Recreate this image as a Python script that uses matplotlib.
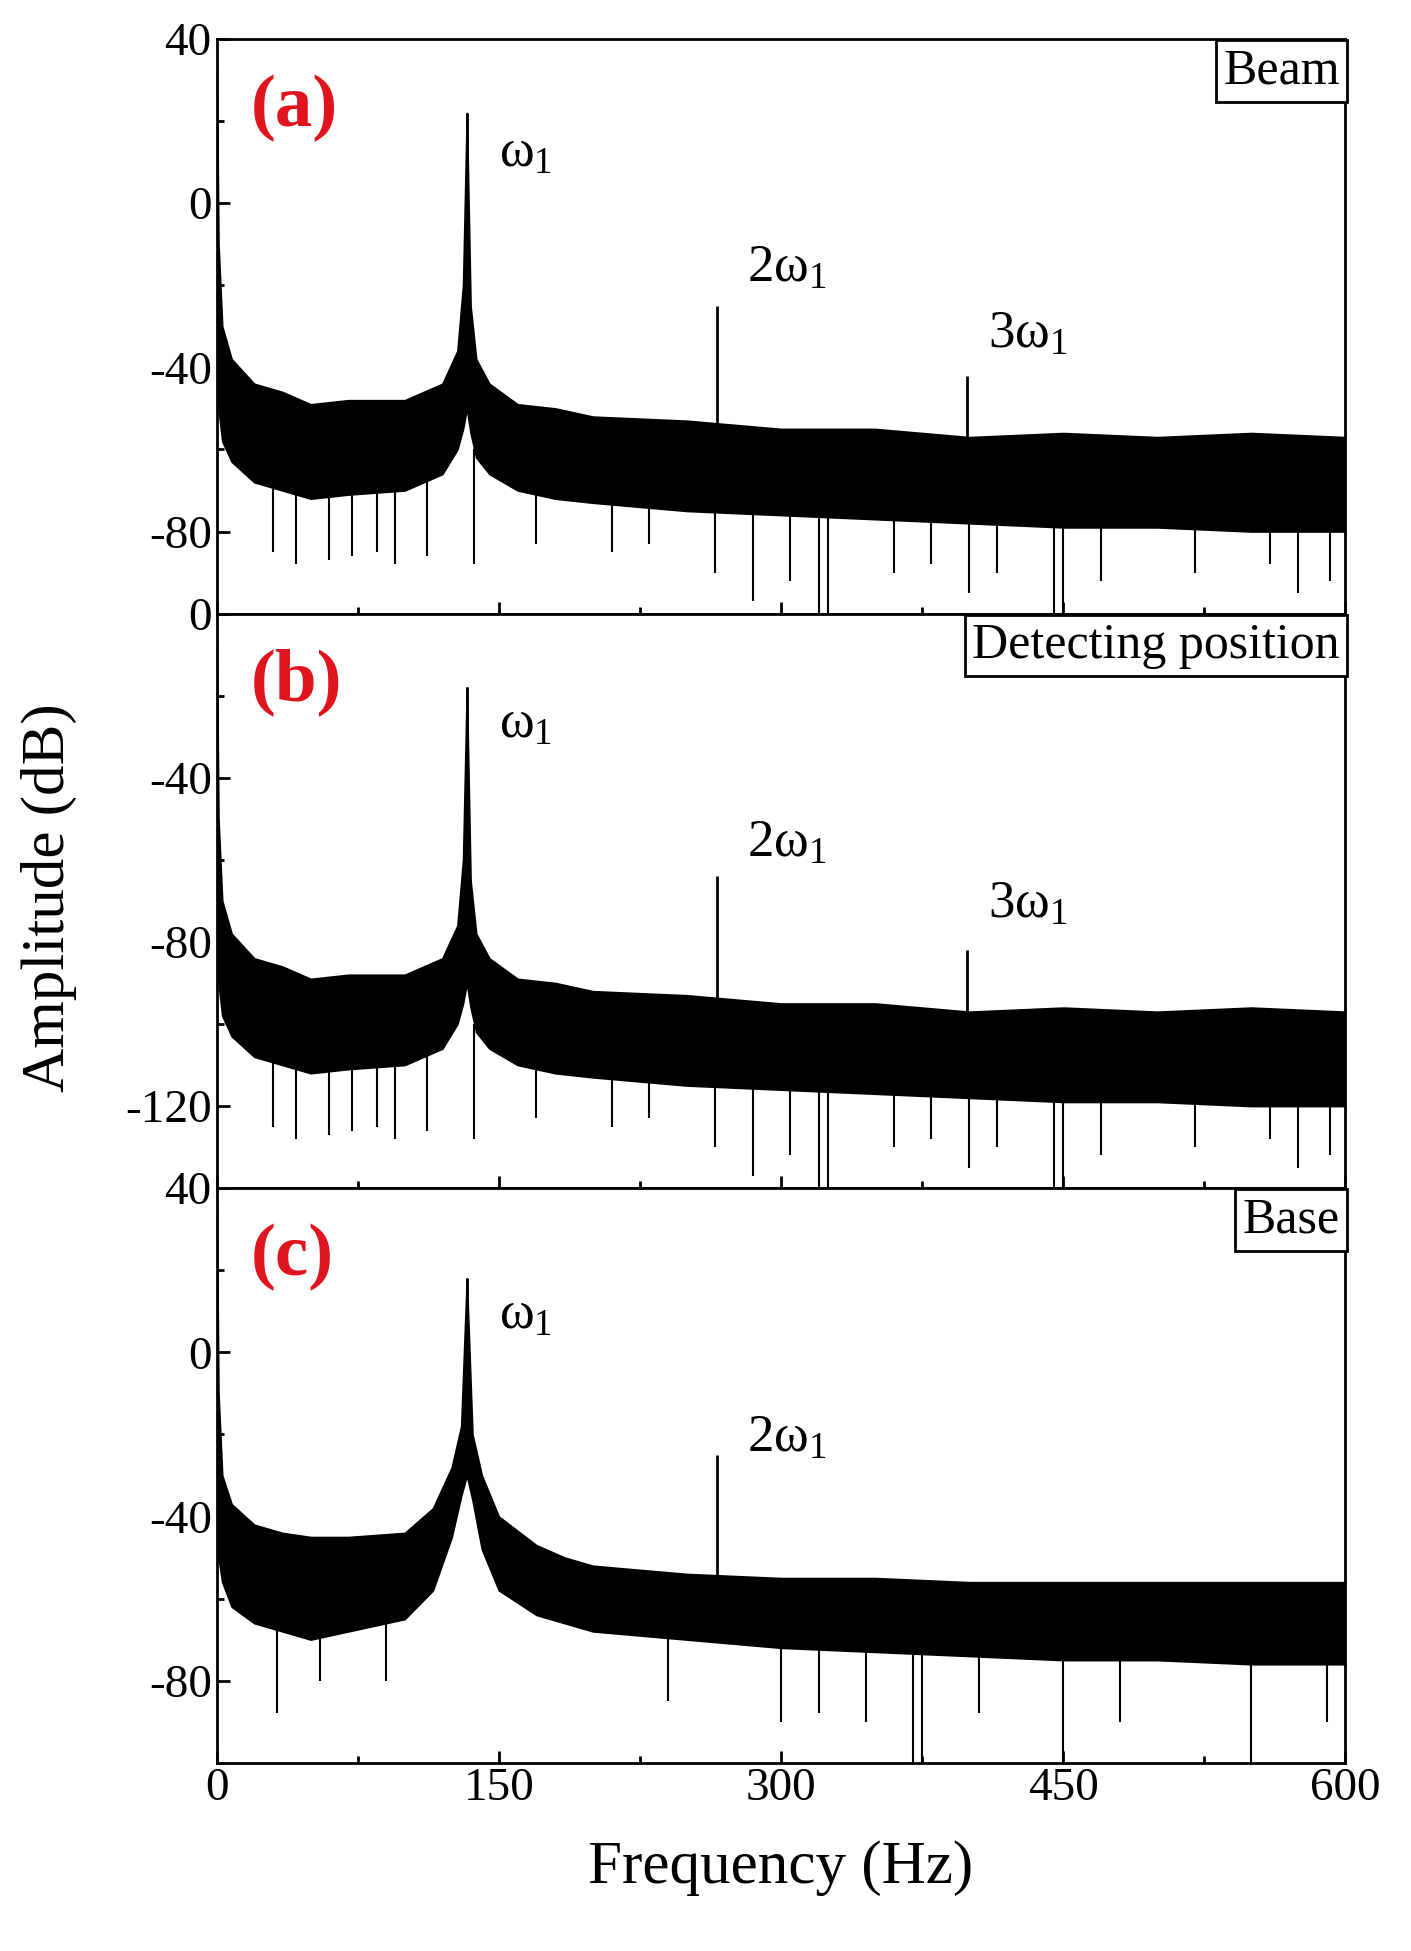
import matplotlib
matplotlib.use("Agg")
import matplotlib.pyplot as plt
import numpy as np
from matplotlib.ticker import MultipleLocator

plt.rcParams["font.family"] = ["Liberation Serif", "DejaVu Serif"]
plt.rcParams["mathtext.fontset"] = "custom"
plt.rcParams["mathtext.rm"] = "Liberation Serif"
plt.rcParams["mathtext.it"] = "Liberation Serif"
plt.rcParams["axes.unicode_minus"] = False

# noise band envelopes (freq Hz, dB)
a_freq = [0, 1, 3, 8, 20, 35, 50, 70, 100, 120, 128, 131, 133, 135, 138, 145, 160, 180,
          200, 250, 300, 350, 400, 450, 500, 550, 600]
a_top = [40, -10, -30, -38, -44, -46, -49, -48, -48, -44, -36, -20, 22, -25, -38, -44, -49, -50,
         -52, -53, -55, -55, -57, -56, -57, -56, -57]
a_bot = [-45, -50, -58, -63, -68, -70, -72, -71, -70, -66, -60, -55, -50, -56, -62, -66, -70, -72,
         -73, -75, -76, -77, -78, -79, -79, -80, -80]
a_spikes = [(30, -85), (42, -88), (60, -87), (72, -86), (85, -85), (95, -88), (112, -86), (137, -88),
            (170, -83), (210, -85), (230, -83), (265, -90), (285, -97), (305, -92), (320, -100),
            (325, -100), (360, -90), (380, -88), (400, -95), (415, -90), (445, -100), (450, -100),
            (470, -92), (520, -90), (560, -88), (575, -95), (592, -92)]
a_harm = [(266, -25), (399, -42)]

b_freq = a_freq
b_top = [v - 40 for v in a_top]
b_top[0] = 0
b_bot = [v - 40 for v in a_bot]
b_spikes = [(s[0], s[1] - 40) for s in a_spikes]
b_harm = [(266, -64), (399, -82)]

c_freq = [0, 1, 3, 8, 20, 35, 50, 70, 100, 115, 125, 130, 133, 136, 141, 150, 170, 185,
          200, 250, 300, 350, 400, 450, 500, 550, 600]
c_top = [40, -10, -30, -37, -42, -44, -45, -45, -44, -38, -28, -18, 18, -20, -30, -40, -47, -50,
         -52, -54, -55, -55, -56, -56, -56, -56, -56]
c_bot = [-45, -50, -56, -62, -66, -68, -70, -68, -65, -58, -45, -35, -30, -36, -48, -58, -64, -66,
         -68, -70, -72, -73, -74, -75, -75, -76, -76]
c_spikes = [(32, -88), (55, -80), (90, -80), (240, -85), (300, -90), (320, -88), (345, -90),
            (370, -100), (375, -100), (405, -88), (450, -100), (480, -90), (550, -100), (590, -90)]
c_harm = [(266, -25)]

panels = [
    ("(a)", "Beam", (-100, 40), [-80, -40, 0, 40], a_freq, a_top, a_bot, a_spikes, a_harm,
     [(r"$\omega_1$", 150, 12), (r"$2\omega_1$", 282, -16), (r"$3\omega_1$", 410, -32)]),
    ("(b)", "Detecting position", (-140, 0), [-120, -80, -40, 0], b_freq, b_top, b_bot, b_spikes, b_harm,
     [(r"$\omega_1$", 150, -27), (r"$2\omega_1$", 282, -56), (r"$3\omega_1$", 410, -71)]),
    ("(c)", "Base", (-100, 40), [-80, -40, 0, 40], c_freq, c_top, c_bot, c_spikes, c_harm,
     [(r"$\omega_1$", 150, 9), (r"$2\omega_1$", 282, -21)]),
]

fig = plt.figure(figsize=(14.11, 19.51), dpi=100)
tops = [0.980, 0.6855, 0.391]
h = 0.2945
for i, (tag, name, ylim, yt, fr, top, bot, spikes, harm, notes) in enumerate(panels):
    ax = fig.add_axes([0.1535, tops[i] - h, 0.80, h])
    ax.fill_between(fr, bot, top, color="black", lw=1.2, edgecolor="black")
    for f, d in spikes:
        ax.vlines(f, d, np.interp(f, fr, bot), color="black", lw=1.5)
    for f, v in harm:
        ax.vlines(f, np.interp(f, fr, top), v, color="black", lw=2)
    ax.vlines(133, np.interp(133, fr, bot), max(top[1:]), color="black", lw=2)
    ax.set_xlim(0, 600)
    ax.set_ylim(*ylim)
    ax.set_yticks(yt)
    ax.yaxis.set_minor_locator(MultipleLocator(20))
    ax.xaxis.set_major_locator(MultipleLocator(150))
    ax.xaxis.set_minor_locator(MultipleLocator(75))
    ax.tick_params(which="both", direction="in", labelsize=34, width=2)
    ax.tick_params(which="major", length=9)
    ax.tick_params(which="minor", length=5)
    for s in ax.spines.values():
        s.set_linewidth(2)
    if i < 2:
        ax.tick_params(axis="x", labelbottom=False)
    else:
        ax.set_xlabel("Frequency (Hz)", fontsize=44, labelpad=22)
    ax.text(0.03, 0.88, tag, transform=ax.transAxes, color="#e0141e", fontsize=54,
            fontweight="bold", va="center")
    ax.text(0.995, 0.985, name, transform=ax.transAxes, fontsize=36, ha="right", va="top",
            bbox=dict(boxstyle="square,pad=0.15", fc="white", ec="black", lw=2))
    for lab, tx, ty in notes:
        ax.text(tx, ty, lab, fontsize=38, va="center")

fig.text(0.035, 0.54, "Amplitude (dB)", rotation=90, fontsize=44, va="center", ha="center")
fig.savefig("out.png", dpi=100)
